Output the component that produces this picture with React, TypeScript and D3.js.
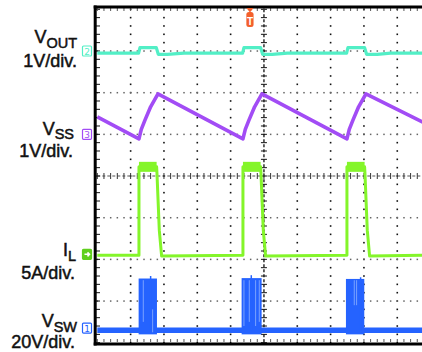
import * as d3 from "d3";
import { useEffect, useRef } from "react";

// scope screen: 10 x 8 divisions, 5 minor ticks per division
const xDivisions = 10;
const yDivisions = 8;
const minorPerDiv = 5;

// channels, top to bottom
const channelNames = ["V", "V", "I", "V"];
const channelSubs = ["OUT", "SS", "L", "SW"];
const channelScales = ["1V/div.", "1V/div.", "5A/div.", "20V/div."];
const channelNumbers = ["2", "3", "4", "1"];
const channelOffsets = [3.0, 1.0, -1.88, -3.65]; // ground markers, divisions
const channelColors = ["#52efc6", "#a24cf5", "#84f52a", "#2563ff"];

// traces as [time (div), level (div)]
const voutTrace: [number, number][] = [
  [0, 2.95], [1.24, 2.95], [1.28, 3.08], [1.77, 3.08], [1.83, 2.92], [2.1, 2.92], [2.6, 2.95],
  [4.36, 2.95], [4.4, 3.08], [4.9, 3.08], [4.96, 2.92], [5.25, 2.92], [5.7, 2.95],
  [7.48, 2.95], [7.52, 3.08], [8.02, 3.08], [8.08, 2.92], [8.4, 2.92], [8.8, 2.95], [10, 2.95],
];
const vssTrace: [number, number][] = [
  [0, 1.42], [1.25, 0.89], [1.32, 1.12], [1.43, 1.34], [1.6, 1.66], [1.82, 1.97],
  [4.37, 0.89], [4.44, 1.12], [4.55, 1.34], [4.72, 1.66], [4.94, 1.97],
  [7.49, 0.89], [7.56, 1.12], [7.67, 1.34], [7.84, 1.66], [8.06, 1.97], [10, 1.2],
];
const ilTrace: [number, number][] = [
  [0, -1.9], [1.25, -1.9], [1.25, 0.22], [1.78, 0.22], [1.79, 0.07], [1.86, -1.3], [1.93, -1.92],
  [4.37, -1.9], [4.37, 0.22], [4.9, 0.22], [4.91, 0.07], [4.98, -1.3], [5.05, -1.92],
  [7.49, -1.9], [7.49, 0.22], [8.02, 0.22], [8.03, 0.07], [8.1, -1.3], [8.17, -1.92], [10, -1.9],
];
// IL on-time noise band [start, end, low, high]
const ilHighBands: [number, number, number, number][] = [
  [1.25, 1.78, 0.1, 0.34],
  [4.37, 4.9, 0.1, 0.34],
  [7.49, 8.02, 0.1, 0.34],
];
const vswBaseline = -3.7;
// switching bursts: [start, end, top level]
const vswBursts: [number, number, number][] = [
  [1.24, 1.79, -2.46],
  [4.33, 4.93, -2.45],
  [7.46, 8.01, -2.47],
];
const vswSpikes: [number, number][] = [
  [1.6, -2.4], [4.62, -2.38], [7.9, -2.43],
];
// lighter stripes inside bursts: [time, top, bottom]
const vswStripes: [number, number, number][] = [
  [1.38, -2.5, -3.5], [1.66, -3.2, -3.75],
  [4.4, -2.5, -3.6], [4.56, -2.5, -3.5], [4.75, -2.5, -3.6], [4.86, -2.5, -3.5],
  [7.71, -2.5, -3.1], [7.78, -2.5, -3.1],
];
const triggerTime = 4.58;

// label layout (px)
const nameBaselines = [43, 134.5, 256, 327];
const nameRight = [77, 74, 76, 77];
const scaleBaselines = [67, 156.5, 279, 347.5];
const scaleRight = [77, 73, 75, 75];

export default function App() {
  const ref = useRef<SVGSVGElement>(null);

  useEffect(() => {
    const width = 422;
    const height = 352;
    const svg = d3.select(ref.current!);
    svg.selectAll("*").remove();
    svg.attr("width", width).attr("height", height);

    svg.append("rect").attr("width", width).attr("height", height).attr("fill", "#fff");

    const x = d3.scaleLinear().domain([0, xDivisions]).range([97.3, 430.6]);
    const y = d3
      .scaleLinear()
      .domain([-yDivisions / 2, yDivisions / 2])
      .range([342.7, 9.3]);

    const minorX = d3.range(0, xDivisions * minorPerDiv + 1).map((i) => i / minorPerDiv).filter((t) => x(t) < width);
    const minorY = d3.range(0, yDivisions * minorPerDiv + 1).map((i) => i / minorPerDiv - yDivisions / 2);

    const grid = svg.append("g");

    // vertical dotted grid lines
    d3.range(1, xDivisions).filter((i) => i !== xDivisions / 2 && x(i) < width).forEach((i) => {
      grid
        .selectAll(null)
        .data(minorY)
        .enter()
        .append("rect")
        .attr("x", x(i) - 0.8)
        .attr("y", (d) => y(d) - 0.8)
        .attr("width", 1.6)
        .attr("height", 1.6)
        .attr("fill", "#111");
    });

    // horizontal dotted grid lines
    d3.range(-yDivisions / 2 + 1, yDivisions / 2).filter((j) => j !== 0).forEach((j) => {
      grid
        .selectAll(null)
        .data(minorX)
        .enter()
        .append("rect")
        .attr("x", (d) => x(d) - 0.7)
        .attr("y", y(j) - 0.7)
        .attr("width", 1.5)
        .attr("height", 1.5)
        .attr("fill", "#666");
    });

    // center axes with minor ticks
    const cx = x(xDivisions / 2);
    const cy = y(0);
    grid
      .append("line")
      .attr("x1", cx).attr("x2", cx)
      .attr("y1", y(yDivisions / 2)).attr("y2", y(-yDivisions / 2))
      .attr("stroke", "#111")
      .attr("stroke-width", 1.3)
      .attr("stroke-dasharray", "3 2");
    grid
      .selectAll(null)
      .data(minorY)
      .enter()
      .append("line")
      .attr("x1", cx - 3).attr("x2", cx + 3)
      .attr("y1", (d) => y(d)).attr("y2", (d) => y(d))
      .attr("stroke", "#111");
    grid
      .append("line")
      .attr("x1", x(0)).attr("x2", width)
      .attr("y1", cy).attr("y2", cy)
      .attr("stroke", "#555")
      .attr("stroke-width", 1.2)
      .attr("stroke-dasharray", "3 2");
    grid
      .selectAll(null)
      .data(minorX)
      .enter()
      .append("line")
      .attr("x1", (d) => x(d)).attr("x2", (d) => x(d))
      .attr("y1", cy - 3).attr("y2", cy + 3)
      .attr("stroke", "#333");

    // border ticks
    grid
      .selectAll(null)
      .data(minorY)
      .enter()
      .append("line")
      .attr("x1", 96).attr("x2", 100)
      .attr("y1", (d) => y(d)).attr("y2", (d) => y(d))
      .attr("stroke", "#111");
    grid
      .selectAll(null)
      .data(minorX)
      .enter()
      .append("line")
      .attr("x1", (d) => x(d)).attr("x2", (d) => x(d))
      .attr("y1", 8).attr("y2", 11)
      .attr("stroke", "#555");
    grid
      .selectAll(null)
      .data(minorX)
      .enter()
      .append("line")
      .attr("x1", (d) => x(d)).attr("x2", (d) => x(d))
      .attr("y1", 339).attr("y2", 342)
      .attr("stroke", "#555");

    // frame
    svg.append("line").attr("x1", 95.2).attr("x2", 95.2).attr("y1", 5.5).attr("y2", 345.5)
      .attr("stroke", "#000").attr("stroke-width", 3);
    svg.append("line").attr("x1", 93.7).attr("x2", width).attr("y1", 7).attr("y2", 7)
      .attr("stroke", "#000").attr("stroke-width", 3);
    svg.append("line").attr("x1", 93.7).attr("x2", width).attr("y1", 344).attr("y2", 344)
      .attr("stroke", "#000").attr("stroke-width", 3);

    const line = d3
      .line<[number, number]>()
      .x((d) => x(d[0]))
      .y((d) => y(d[1]));

    const clip = svg.append("clipPath").attr("id", "screen");
    clip.append("rect").attr("x", 97).attr("y", 9).attr("width", width - 97).attr("height", 334);
    const traces = svg.append("g").attr("clip-path", "url(#screen)");

    // VOUT
    traces.append("path").datum(voutTrace).attr("d", line).attr("fill", "none")
      .attr("stroke", channelColors[0]).attr("stroke-width", 3.2).attr("stroke-linejoin", "round");

    // VSS
    traces.append("path").datum(vssTrace).attr("d", line).attr("fill", "none")
      .attr("stroke", channelColors[1]).attr("stroke-width", 3.6).attr("stroke-linejoin", "round");

    // IL
    traces
      .selectAll(null)
      .data(ilHighBands)
      .enter()
      .append("rect")
      .attr("x", (d) => x(d[0]))
      .attr("width", (d) => x(d[1]) - x(d[0]))
      .attr("y", (d) => y(d[3]))
      .attr("height", (d) => y(d[2]) - y(d[3]))
      .attr("fill", channelColors[2]);
    traces.append("path").datum(ilTrace).attr("d", line).attr("fill", "none")
      .attr("stroke", channelColors[2]).attr("stroke-width", 3).attr("stroke-linejoin", "round");

    // VSW
    traces.append("line").attr("x1", x(0)).attr("x2", width)
      .attr("y1", y(vswBaseline)).attr("y2", y(vswBaseline))
      .attr("stroke", channelColors[3]).attr("stroke-width", 5.5);
    traces
      .selectAll(null)
      .data(vswBursts)
      .enter()
      .append("rect")
      .attr("x", (d) => x(d[0]))
      .attr("width", (d) => x(d[1]) - x(d[0]))
      .attr("y", (d) => y(d[2]))
      .attr("height", (d) => y(vswBaseline - 0.1) - y(d[2]))
      .attr("fill", channelColors[3]);
    traces
      .selectAll(null)
      .data(vswSpikes)
      .enter()
      .append("line")
      .attr("x1", (d) => x(d[0])).attr("x2", (d) => x(d[0]))
      .attr("y1", (d) => y(d[1])).attr("y2", y(vswBaseline))
      .attr("stroke", channelColors[3]).attr("stroke-width", 1.5);
    traces
      .selectAll(null)
      .data(vswStripes)
      .enter()
      .append("line")
      .attr("x1", (d) => x(d[0])).attr("x2", (d) => x(d[0]))
      .attr("y1", (d) => y(d[1])).attr("y2", (d) => y(d[2]))
      .attr("stroke", "#7aa2ff").attr("stroke-width", 1);

    // trigger marker
    const tx = x(triggerTime);
    const trig = svg.append("g").attr("fill", "#f3602b");
    trig.append("path").attr("d", `M${tx - 3.5},8 L${tx + 3.5},8 L${tx},12.5 Z`);
    trig.append("rect").attr("x", tx - 3.6).attr("y", 12).attr("width", 7.2).attr("height", 15).attr("rx", 2.5);
    trig.append("text").attr("x", tx).attr("y", 24.5).attr("text-anchor", "middle")
      .attr("font-family", "Liberation Sans, Arial, sans-serif").attr("font-size", 10).attr("font-weight", "bold")
      .attr("fill", "#fff").text("T");

    // channel ground markers
    channelOffsets.forEach((off, i) => {
      const my = y(off);
      const g = svg.append("g");
      const filled = channelNumbers[i] === "4";
      g.append("rect")
        .attr("x", 82.5).attr("y", my - 5).attr("width", 9).attr("height", 10).attr("rx", 1)
        .attr("fill", filled ? "#5fcf1e" : "#fff")
        .attr("stroke", filled ? "#5fcf1e" : channelColors[i]).attr("stroke-width", 1.2);
      if (filled) {
        g.append("path").attr("d", `M84.5,${my} L89.5,${my} M87.5,${my - 2} L89.5,${my} L87.5,${my + 2}`)
          .attr("stroke", "#fff").attr("stroke-width", 1.5).attr("fill", "none");
      } else {
        g.append("text").attr("x", 87).attr("y", my + 3.6).attr("text-anchor", "middle")
          .attr("font-family", "DejaVu Sans, sans-serif").attr("font-size", 9)
          .attr("fill", channelColors[i]).text(channelNumbers[i]);
      }
    });

    // channel labels
    const labels = svg.append("g")
      .attr("font-family", "Liberation Sans, Arial, sans-serif")
      .attr("fill", "#111")
      .attr("stroke", "#111")
      .attr("stroke-width", 0.5)
      .attr("text-anchor", "end");
    channelNames.forEach((name, i) => {
      const t = labels.append("text").attr("x", nameRight[i]).attr("y", nameBaselines[i]).attr("font-size", 18);
      t.append("tspan").text(name);
      t.append("tspan").attr("dy", 4.5).attr("font-size", 14.5).text(channelSubs[i]);
      labels.append("text").attr("x", scaleRight[i]).attr("y", scaleBaselines[i])
        .attr("font-size", 18).text(channelScales[i]);
    });
  }, []);

  return (
    <svg
      ref={ref}
      style={{ position: "absolute", left: 0, top: 0, display: "block" }}
    />
  );
}
